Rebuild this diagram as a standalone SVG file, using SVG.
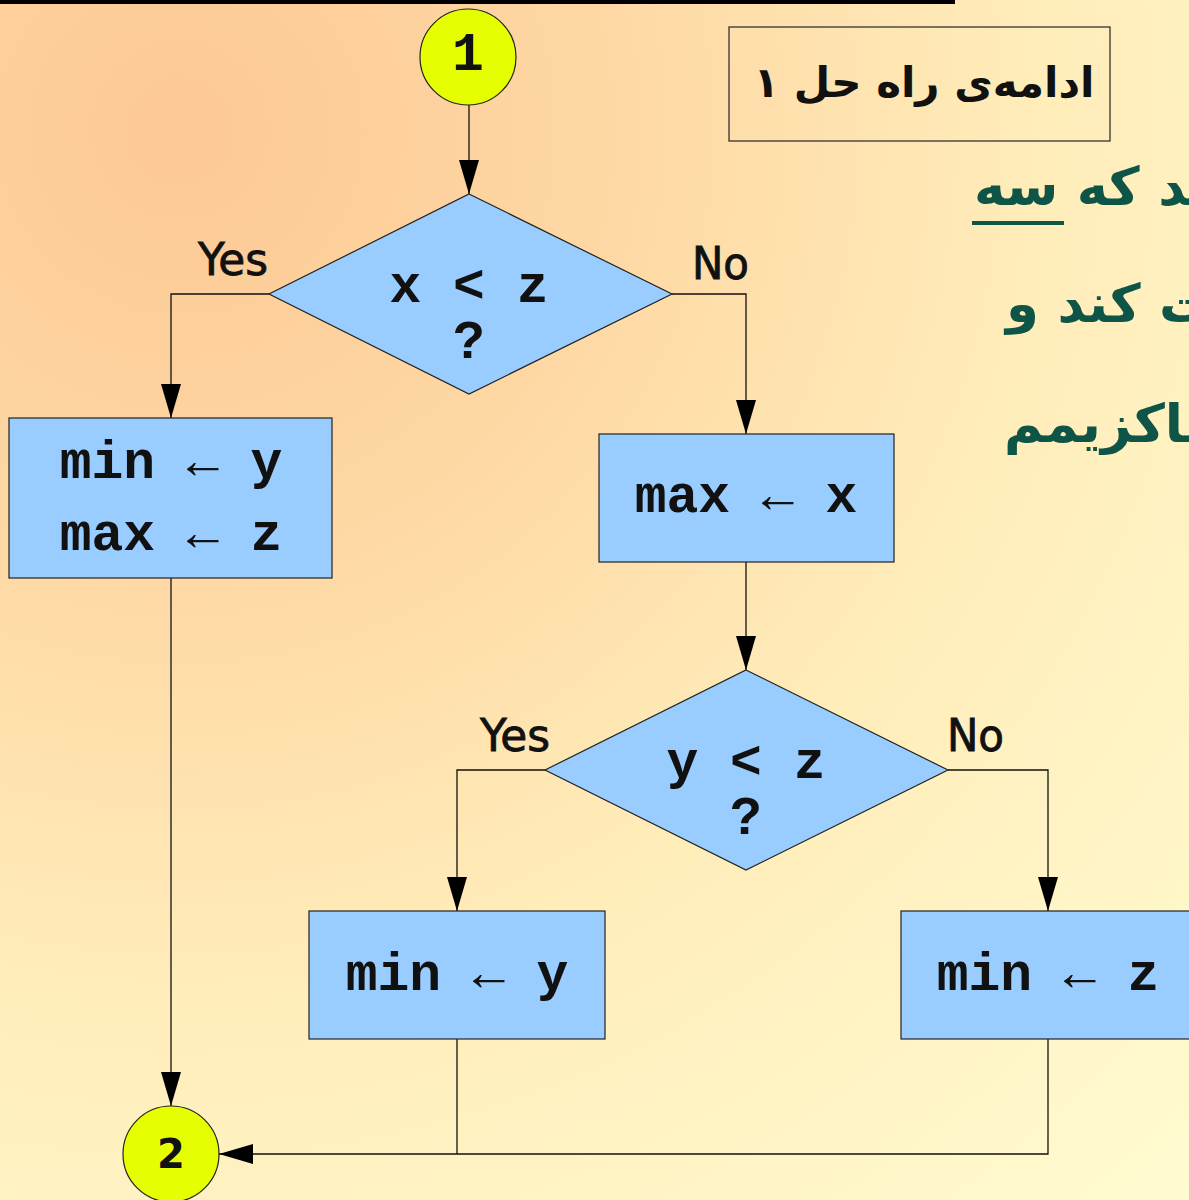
<svg xmlns="http://www.w3.org/2000/svg" width="1189" height="1200" viewBox="0 0 1189 1200">
<defs>
<radialGradient id="bg" gradientUnits="userSpaceOnUse" cx="180" cy="130" r="1450">
<stop offset="0" stop-color="#FCC894"/>
<stop offset="0.3" stop-color="#FED8A4"/>
<stop offset="0.6" stop-color="#FFEDBA"/>
<stop offset="1" stop-color="#FFFBD0"/>
</radialGradient>
<marker id="arr" markerWidth="34" markerHeight="20" refX="34" refY="10" viewBox="0 0 34 20" markerUnits="userSpaceOnUse" orient="auto">
<path d="M0,0 L34,10 L0,20 Z" fill="#000"/>
</marker>
<style>
.box{fill:#99CCFF;stroke:#222;stroke-width:1.2}
.circ{fill:#E5FF00;stroke:#222;stroke-width:1.2}
.code{font-family:"Liberation Mono","Courier New",monospace;font-weight:bold;font-size:53px;fill:#111;text-anchor:middle}
.lbl{font-family:"DejaVu Sans Condensed","DejaVu Sans",sans-serif;font-size:44px;fill:#111;stroke:#111;stroke-width:0.8}
.con{fill:none;stroke:#111;stroke-width:1.3}
.fa{font-family:"DejaVu Sans","Noto Sans",sans-serif;font-weight:bold}
</style>
</defs>
<rect width="1189" height="1200" fill="url(#bg)"/>
<rect x="0" y="0" width="955" height="4" fill="#000"/>

<g id="title">
<rect x="729" y="27" width="381" height="114" fill="none" stroke="#333" stroke-width="1.3"/>
<text x="924" y="97" class="fa" font-size="42" fill="#111" text-anchor="middle">ادامه‌ی راه حل ۱</text>
</g>

<g id="side-text" class="fa" fill="#0E5548" font-size="53">
<text x="974" y="205">باید که سه</text>
<rect x="972" y="221" width="92" height="4" fill="#0E5548"/>
<text x="1006" y="322">دریافت کند و</text>
<text x="1004" y="442">ماکزیمم</text>
</g>

<g id="connectors">
<path class="con" d="M469,105 V194" marker-end="url(#arr)"/>
<path class="con" d="M269,294 H171 V418" marker-end="url(#arr)"/>
<path class="con" d="M672,294 H746 V434" marker-end="url(#arr)"/>
<path class="con" d="M746,562 V670" marker-end="url(#arr)"/>
<path class="con" d="M545,770 H457 V911" marker-end="url(#arr)"/>
<path class="con" d="M948,770 H1048 V911" marker-end="url(#arr)"/>
<path class="con" d="M171,578 V1106" marker-end="url(#arr)"/>
<path class="con" d="M457,1039 V1154"/>
<path class="con" d="M1048,1039 V1154 H219" marker-end="url(#arr)"/>
<text class="lbl" x="198" y="275" textLength="70" lengthAdjust="spacingAndGlyphs">Yes</text>
<text class="lbl" x="692" y="279" textLength="57" lengthAdjust="spacingAndGlyphs">No</text>
<text class="lbl" x="480" y="751" textLength="70" lengthAdjust="spacingAndGlyphs">Yes</text>
<text class="lbl" x="947" y="751" textLength="57" lengthAdjust="spacingAndGlyphs">No</text>
</g>

<g id="start">
<circle class="circ" cx="468" cy="57" r="48"/>
<text x="468" y="70" class="code" font-size="46">1</text>
</g>

<g id="cond1">
<polygon class="box" points="469,194 672,294 469,394 269,294"/>
<text x="469" y="302" class="code">x &lt; z</text>
<text x="469" y="358" class="code" font-size="50">?</text>
</g>

<g id="box1">
<rect class="box" x="9" y="418" width="323" height="160"/>
<text x="171" y="478" class="code">min ← y</text>
<text x="171" y="550" class="code">max ← z</text>
</g>

<g id="box2">
<rect class="box" x="599" y="434" width="295" height="128"/>
<text x="746" y="512" class="code">max ← x</text>
</g>

<g id="cond2">
<polygon class="box" points="746,670 948,770 746,870 545,770"/>
<text x="746" y="778" class="code">y &lt; z</text>
<text x="746" y="834" class="code" font-size="50">?</text>
</g>

<g id="box3">
<rect class="box" x="309" y="911" width="296" height="128"/>
<text x="457" y="990" class="code">min ← y</text>
</g>

<g id="box4">
<rect class="box" x="901" y="911" width="300" height="128"/>
<text x="1048" y="990" class="code">min ← z</text>
</g>

<g id="end">
<circle class="circ" cx="171" cy="1154" r="48"/>
<text x="171" y="1168" font-family="DejaVu Sans, sans-serif" font-weight="bold" font-size="40" fill="#111" text-anchor="middle">2</text>
</g>
</svg>
